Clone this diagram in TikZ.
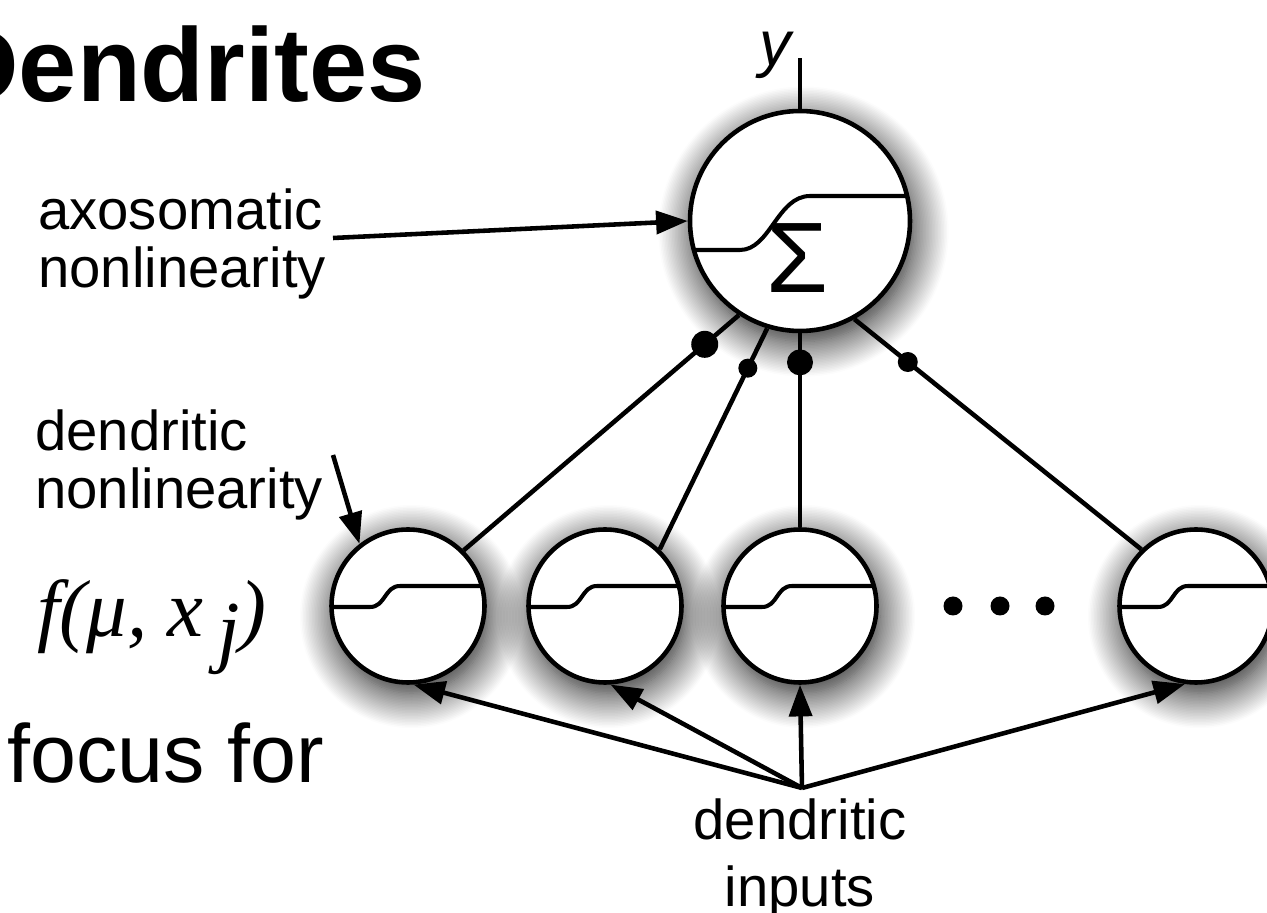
\documentclass[tikz,border=0pt]{standalone}
\usepackage{fontspec}
\setmainfont{Liberation Sans}
\newfontfamily\serifit{Liberation Serif}
\usetikzlibrary{arrows.meta,positioning,calc,shadows.blur}

\begin{document}
\begin{tikzpicture}[>={Triangle[length=18pt,width=13pt]}, line width=2.6pt,
  cell/.style={circle, draw, fill=white, inner sep=0pt, minimum size=#1,
    blur shadow={shadow xshift=2pt, shadow yshift=-6pt, shadow scale=1.0, shadow blur radius=20pt, shadow blur steps=24, shadow opacity=95}},
  cell/.default=3.06cm,
  syn/.style={circle, fill, inner sep=0pt, minimum size=#1},
  sig/.style={line width=2.3pt},
  lab/.style={font=\fontsize{32}{33.5}\selectfont, inner sep=0pt, align=left}]
  \useasboundingbox (0,0) rectangle (25.34,18.24);
  \clip (0,0) rectangle (25.34,18.24);
  % headings
  \node[font=\fontsize{59.5}{60}\selectfont\bfseries, anchor=base east, inner sep=0pt] (title) at (8.56,16.2) {Dendrites};
  \node[font=\fontsize{47}{47}\selectfont, anchor=base west, inner sep=0pt] (focus) at (0.1,2.58) {focus for};
  % soma
  \node[cell=4.4cm] (soma) at (16.0,13.82) {};
  \draw[sig, shift={(soma.center)}] (-2.12,-0.58) -- (-1.2,-0.58) .. controls (-0.6,-0.58) and (-0.45,0.50) .. (0.2,0.50) -- (2.14,0.50);
  \node[font=\fontsize{57}{57}\selectfont, inner sep=0pt] (sum) at ($(soma.center)+(-0.06,-0.74)$) {Σ};
  \coordinate (yout) at ($(soma.north)+(0,1.02)$);
  \draw (soma.north) -- (yout);
  \node[font=\fontsize{36}{36}\selectfont\itshape, anchor=base east, inner sep=0pt] (ylab) at (15.86,16.92) {y};
  % dendritic branches
  \node[cell] (d1) at (8.16,6.12) {};
  \node[cell] (d2) at (12.1,6.12) {};
  \node[cell] (d3) at (16.0,6.12) {};
  \node[cell] (d5) at (23.92,6.12) {};
  \foreach \n in {d1,d2,d3,d5}
    \draw[sig, shift={(\n.center)}] (-1.53,-0.02) -- (-0.76,-0.02) .. controls (-0.45,-0.02) and (-0.47,0.40) .. (-0.16,0.40) -- (1.47,0.40);
  \foreach \x in {19.06,20.0,20.9}
    \fill (\x,6.12) circle (0.19);
  % synapses onto soma
  \draw (soma.237) -- node[syn=0.54cm, pos=0.124] (s1) {} (d1.45);
  \draw (soma.253) -- node[syn=0.38cm, pos=0.18] (s2) {} (d2.46);
  \draw (soma.270) -- node[syn=0.52cm, pos=0.15] (s3) {} (d3.90);
  \draw (soma.299) -- node[syn=0.4cm, pos=0.186] (s4) {} (d5.134);
  % labels on the left
  \node[lab, anchor=north west] (axo) at (0.72,14.52) {axosomatic\\nonlinearity};
  \coordinate (axoend) at (6.66,13.48);
  \draw[->] (axoend) -- (soma.west);
  \node[lab, anchor=north west] (dnl) at (0.66,10.1) {dendritic\\nonlinearity};
  \coordinate (dnlend) at (6.66,9.14);
  \draw[->] (dnlend) -- (d1.128);
  \node[font=\fontsize{46}{46}\selectfont\serifit\itshape, anchor=base west, inner sep=0pt] (fmu) at (0.7,5.5) {f(μ, x\,\raisebox{-0.25em}{j})};
  % inputs
  \coordinate (inp) at (16.04,2.48);
  \foreach \n/\a in {d1/274,d2/274,d3/270,d5/262}
    \draw[->] (inp) -- (\n.\a);
  \node[font=\fontsize{32}{38.5}\selectfont, inner sep=0pt, align=center, anchor=north] (dinp) at (16.0,2.32) {dendritic\\inputs};
\end{tikzpicture}
\end{document}
